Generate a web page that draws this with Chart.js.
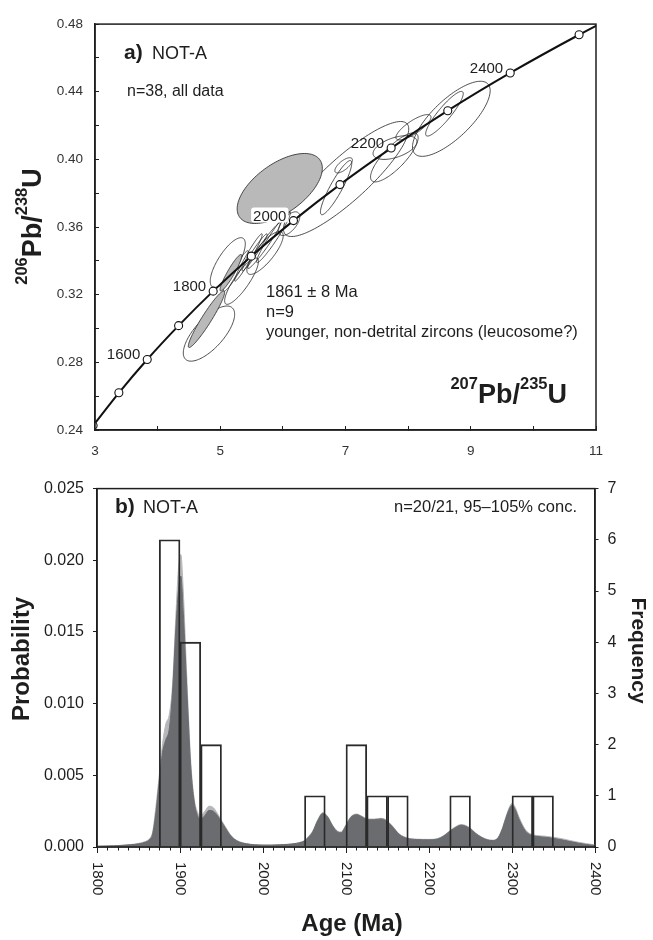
<!DOCTYPE html>
<html><head><meta charset="utf-8">
<script src="https://cdn.jsdelivr.net/npm/chart.js@4.4.1/dist/chart.umd.min.js"></script>
<style>
html,body{margin:0;padding:0;background:#fff;}
body{width:653px;height:940px;overflow:hidden;position:relative;}
.w{position:absolute;left:0;width:653px;height:470px;}
</style></head>
<body>
<div class="w" style="top:0"><canvas id="ca"></canvas></div>
<div class="w" style="top:470px"><canvas id="cb"></canvas></div>
<script>
// ---------- Panel a: concordia ----------
const concordiaAges = [1400,1500,1600,1700,1800,1900,2000,2100,2200,2300,2400,2500,2600];
const concordiaX = [2.970,3.381,3.834,4.335,4.887,5.496,6.169,6.911,7.729,8.633,9.630,10.73,11.94];
const concordiaY = [0.2426,0.2620,0.2817,0.3017,0.3221,0.3428,0.3638,0.3851,0.4067,0.4288,0.4511,0.4737,0.4968];
const ageLabels = ['1600','1800','2000','2200','2400'];

// error ellipses: centre (207/235, 206/238), half-axes, correlation, filled?
const ellipseX   = [7.01,8.69,8.58,8.085,7.78,7.79,6.85,6.97,4.82,5.12,5.34,5.715,5.45,5.55,5.70,5.85,6.10,5.25,5.95,4.78,5.17];
const ellipseY   = [0.3884,0.4240,0.4270,0.4190,0.4012,0.4070,0.3833,0.3965,0.2970,0.3390,0.3280,0.3447,0.3420,0.3450,0.3490,0.3540,0.3620,0.3340,0.3828,0.3055,0.3330];
const ellipseSX  = [1.00,0.62,0.30,0.28,0.38,0.35,0.25,0.14,0.41,0.28,0.27,0.29,0.22,0.20,0.26,0.27,0.17,0.20,0.68,0.29,0.173];
const ellipseSY  = [0.034,0.0222,0.0132,0.0075,0.0145,0.0070,0.0160,0.0045,0.0163,0.0147,0.0137,0.0127,0.0140,0.0110,0.0135,0.0150,0.0070,0.0120,0.0207,0.0167,0.0108];
const ellipseRho = [0.87,0.75,0.90,0.80,0.80,0.50,0.90,0.70,0.70,0.75,0.85,0.80,0.97,0.97,0.97,0.96,0.60,0.95,0.58,0.95,0.93];
const ellipseFilled = [0,0,0,0,0,0,0,0,0,0,0,0,0,0,0,0,0,0,1,1,1];

const topXTickLabels = ['3','5','7','9','11'];
const topYTickLabels = ['0.24','0.28','0.32','0.36','0.40','0.44','0.48'];

// ---------- Panel b: probability density + histogram ----------
const densityAges = [1800,1820,1840,1850,1858,1863,1867,1871,1875,1879,1883,1887,1891,1895,1898,1901,1904,1907,1910,1913,1917,1921,1925,1930,1935,1940,1945,1950,1955,1960,1965,1972,1980,1990,2000,2010,2020,2030,2040,2046,2050,2055,2060,2066,2072,2078,2084,2090,2094,2100,2106,2113,2120,2126,2134,2142,2148,2156,2164,2174,2185,2200,2210,2217,2223,2229,2239,2249,2256,2263,2270,2276,2282,2288,2292,2296,2300,2304,2308,2313,2318,2324,2330,2340,2350,2360,2370,2380,2390,2400];
const densityDark = [0.00005,0.00008,0.00015,0.00022,0.00033,0.00050,0.00090,0.00240,0.00460,0.00660,0.00750,0.00820,0.01080,0.01520,0.01780,0.01890,0.01630,0.01250,0.00880,0.00550,0.00320,0.00220,0.00195,0.00220,0.00255,0.00250,0.00220,0.00175,0.00130,0.00085,0.00055,0.00033,0.00022,0.00015,0.00013,0.00013,0.00015,0.00018,0.00025,0.00033,0.00042,0.00070,0.00107,0.00185,0.00234,0.00208,0.00145,0.00105,0.00100,0.00150,0.00208,0.00225,0.00208,0.00190,0.00190,0.00196,0.00185,0.00141,0.00088,0.00060,0.00052,0.00050,0.00055,0.00074,0.00100,0.00125,0.00152,0.00130,0.00095,0.00068,0.00050,0.00045,0.00055,0.00120,0.00190,0.00255,0.00292,0.00260,0.00200,0.00140,0.00100,0.00082,0.00074,0.00068,0.00060,0.00050,0.00038,0.00027,0.00017,0.00010];
const densityLight = [0.00006,0.00009,0.00017,0.00025,0.00038,0.00058,0.00105,0.00280,0.00500,0.00720,0.00860,0.00920,0.01130,0.01610,0.01930,0.02040,0.01780,0.01350,0.00940,0.00590,0.00340,0.00245,0.00220,0.00250,0.00285,0.00275,0.00235,0.00185,0.00138,0.00092,0.00060,0.00036,0.00024,0.00016,0.00014,0.00014,0.00016,0.00019,0.00026,0.00035,0.00045,0.00074,0.00112,0.00190,0.00240,0.00212,0.00150,0.00110,0.00105,0.00155,0.00212,0.00230,0.00212,0.00195,0.00195,0.00200,0.00190,0.00146,0.00092,0.00063,0.00055,0.00053,0.00058,0.00077,0.00103,0.00130,0.00157,0.00135,0.00099,0.00071,0.00053,0.00048,0.00058,0.00125,0.00198,0.00265,0.00305,0.00275,0.00215,0.00152,0.00108,0.00088,0.00080,0.00075,0.00068,0.00058,0.00045,0.00033,0.00023,0.00015];
const binStarts = [1875,1900,1925,2050,2100,2125,2150,2225,2300,2325];
const binCounts = [6,4,2,1,2,1,1,1,1,1];
const binWidth = 25;
const probTickLabels = ['0.000','0.005','0.010','0.015','0.020','0.025'];
const freqTickLabels = ['0','1','2','3','4','5','6','7'];
const ageTickLabels = ['1800','1900','2000','2100','2200','2300','2400'];
const ageMinorStep = 12.5;

const FF = '"Liberation Sans", Arial, Helvetica, sans-serif';
const INK = '#1e1e1e';

function richText(ctx, parts, x, y, mainSize, supSize, raise, align){
  let w = 0;
  parts.forEach(p=>{ ctx.font = 'bold '+(p.sup?supSize:mainSize)+'px '+FF; w += ctx.measureText(p.t).width; });
  let cx = align==='center' ? x - w/2 : (align==='right' ? x - w : x);
  ctx.textAlign='left'; ctx.textBaseline='alphabetic';
  parts.forEach(p=>{
    ctx.font = 'bold '+(p.sup?supSize:mainSize)+'px '+FF;
    ctx.fillText(p.t, cx, p.sup ? y - raise : y);
    cx += ctx.measureText(p.t).width;
  });
}

const ellipsePlugin = {
  id:'ellipses',
  beforeDatasetsDraw(chart){
    const {ctx, chartArea:a, scales:{x,y}} = chart;
    ctx.save();
    ctx.beginPath(); ctx.rect(a.left,a.top,a.width,a.height); ctx.clip();
    [0,1].forEach(pass=>{
      ellipseX.forEach((cx,i)=>{
        if (ellipseFilled[i]!==pass) return;
        const sx=ellipseSX[i], sy=ellipseSY[i], r=ellipseRho[i], q=Math.sqrt(1-r*r);
        ctx.beginPath();
        for(let k=0;k<=120;k++){
          const t=2*Math.PI*k/120;
          const px=x.getPixelForValue(cx+sx*Math.cos(t));
          const py=y.getPixelForValue(ellipseY[i]+sy*(r*Math.cos(t)+q*Math.sin(t)));
          if(k===0) ctx.moveTo(px,py); else ctx.lineTo(px,py);
        }
        ctx.closePath();
        if(pass){ ctx.fillStyle='#b9b9b9'; ctx.fill(); }
        ctx.strokeStyle='#222'; ctx.lineWidth=0.8; ctx.stroke();
      });
    });
    ctx.restore();
  },
  afterDatasetsDraw(chart){
    const {ctx, scales:{x,y}} = chart;
    ctx.save();
    ctx.font='15px '+FF; ctx.textAlign='right'; ctx.textBaseline='alphabetic';
    ageLabels.forEach(lab=>{
      const i = concordiaAges.indexOf(Number(lab));
      const px = x.getPixelForValue(concordiaX[i]) - 7;
      const py = y.getPixelForValue(concordiaY[i]);
      if(lab==='2000'){
        const w = ctx.measureText(lab).width;
        ctx.fillStyle='#fff';
        ctx.beginPath(); ctx.roundRect(px-w-2, py-13, w+4, 15, 3); ctx.fill();
      }
      ctx.fillStyle=INK; ctx.fillText(lab, px, py);
    });
    ctx.restore();
  },
  afterDraw(chart){
    const {ctx, chartArea:a} = chart;
    ctx.save();
    ctx.strokeStyle=INK; ctx.lineWidth=1.5;
    ctx.strokeRect(a.left, a.top, a.width, a.height);
    ctx.fillStyle=INK;
    ctx.textAlign='left'; ctx.textBaseline='alphabetic';
    ctx.font='bold 21px '+FF; ctx.fillText('a)', 124, 59);
    ctx.font='18px '+FF; ctx.fillText('NOT-A', 152, 59);
    ctx.font='16px '+FF; ctx.fillText('n=38, all data', 127, 96);
    ctx.font='16.5px '+FF;
    ctx.fillText('1861 \u00B1 8 Ma', 266, 297);
    ctx.fillText('n=9', 266, 317);
    ctx.fillText('younger, non-detrital zircons (leucosome?)', 266, 337);
    richText(ctx,[{t:'207',sup:true},{t:'Pb/'},{t:'235',sup:true},{t:'U'}], 567, 403, 27, 16.5, 14, 'right');
    ctx.translate(41, 226.5); ctx.rotate(-Math.PI/2);
    richText(ctx,[{t:'206',sup:true},{t:'Pb/'},{t:'238',sup:true},{t:'U'}], 0, 0, 27, 16.5, 14, 'center');
    ctx.restore();
  }
};

new Chart(document.getElementById('ca'), {
  type:'line',
  data:{datasets:[{
    data: concordiaX.map((v,i)=>({x:v, y:concordiaY[i]})),
    borderColor:'#111', borderWidth:2, fill:false, cubicInterpolationMode:'monotone',
    pointRadius:4, pointBackgroundColor:'#fff', pointBorderColor:'#111', pointBorderWidth:1.1
  }]},
  options:{
    responsive:true, maintainAspectRatio:false, animation:false,
    layout:{padding:{top:21, right:57, left:0, bottom:0}},
    plugins:{legend:{display:false}, tooltip:{enabled:false}},
    scales:{
      x:{type:'linear', min:3, max:11, z:1, offset:false,
         ticks:{stepSize:1, autoSkip:false, maxRotation:0, padding:17.5, color:'#333', font:{family:FF,size:13.5},
                callback:(v)=> topXTickLabels.includes(String(v)) ? String(v) : ''},
         grid:{drawOnChartArea:false, tickLength:-4, color:INK, lineWidth:1},
         border:{color:INK, width:1.5},
         afterFit:(s)=>{ s.height=40; }},
      y:{type:'linear', min:0.24, max:0.48, z:1,
         ticks:{stepSize:0.02, autoSkip:false, padding:16, color:'#333', font:{family:FF,size:13.5},
                callback:(v)=>{ const s=Number(v).toFixed(2); return topYTickLabels.includes(s) ? s : ''; }},
         grid:{drawOnChartArea:false, tickLength:-4, color:INK, lineWidth:1},
         border:{color:INK, width:1.5},
         afterFit:(s)=>{ s.width=95; }}
    }
  },
  plugins:[ellipsePlugin]
});

const panelBPlugin = {
  id:'panelB',
  afterDraw(chart){
    const {ctx, chartArea:a, scales:{x}} = chart;
    ctx.save();
    ctx.strokeStyle=INK; ctx.lineWidth=1.5;
    ctx.strokeRect(a.left, a.top, a.width, a.height);
    ctx.lineWidth=1;
    for(let v=x.min; v<=x.max+1e-9; v+=ageMinorStep){
      const px = Math.round(x.getPixelForValue(v))+0.5;
      ctx.beginPath(); ctx.moveTo(px, a.bottom); ctx.lineTo(px, a.bottom+3.5); ctx.stroke();
    }
    ctx.fillStyle=INK;
    ctx.font='15px '+FF; ctx.textAlign='left'; ctx.textBaseline='middle';
    ageTickLabels.forEach(lab=>{
      const px = x.getPixelForValue(Number(lab));
      ctx.beginPath(); ctx.moveTo(Math.round(px)+0.5, a.bottom); ctx.lineTo(Math.round(px)+0.5, a.bottom+6); ctx.stroke();
      ctx.save(); ctx.translate(px, a.bottom+15); ctx.rotate(Math.PI/2);
      ctx.fillText(lab, 0, 0); ctx.restore();
    });
    ctx.textBaseline='alphabetic';
    ctx.font='bold 21px '+FF; ctx.fillText('b)', 115, 43);
    ctx.font='18px '+FF; ctx.fillText('NOT-A', 143, 43);
    ctx.font='16.5px '+FF; ctx.textAlign='right';
    ctx.fillText('n=20/21, 95\u2013105% conc.', 577, 42);
    ctx.textAlign='center';
    ctx.font='bold 24px '+FF; ctx.fillText('Age (Ma)', 352, 461);
    ctx.save(); ctx.translate(29, 189); ctx.rotate(-Math.PI/2);
    ctx.font='bold 24px '+FF; ctx.fillText('Probability', 0, 0); ctx.restore();
    ctx.save(); ctx.translate(632, 180.5); ctx.rotate(Math.PI/2);
    ctx.font='bold 21px '+FF; ctx.fillText('Frequency', 0, 0); ctx.restore();
    ctx.restore();
  }
};

new Chart(document.getElementById('cb'), {
  type:'line',
  data:{datasets:[
    {type:'bar', yAxisID:'y2', order:0,
     data: binStarts.map((s,i)=>({x:s+binWidth/2, y:binCounts[i]})),
     backgroundColor:'rgba(0,0,0,0)', borderColor:'#2a2a2a', borderWidth:1.2,
     barPercentage:1, categoryPercentage:1},
    {yAxisID:'y', order:1,
     data: densityAges.map((a,i)=>({x:a, y:densityDark[i]})),
     fill:'origin', backgroundColor:'#6b6c6f', borderColor:'#6b6c6f', borderWidth:1,
     pointRadius:0, cubicInterpolationMode:'monotone'},
    {yAxisID:'y', order:2,
     data: densityAges.map((a,i)=>({x:a, y:densityLight[i]})),
     fill:'origin', backgroundColor:'#b6b7ba', borderColor:'#b6b7ba', borderWidth:1,
     pointRadius:0, cubicInterpolationMode:'monotone'}
  ]},
  options:{
    responsive:true, maintainAspectRatio:false, animation:false,
    layout:{padding:{top:13, right:0, left:0, bottom:0}},
    plugins:{legend:{display:false}, tooltip:{enabled:false}},
    scales:{
      x:{type:'linear', min:1800, max:2400, z:1, offset:false,
         ticks:{stepSize:100, autoSkip:false, maxRotation:0, callback:()=>''},
         grid:{drawOnChartArea:false, drawTicks:false, offset:false},
         border:{color:INK, width:1.5},
         afterFit:(s)=>{ s.height=93; }},
      y:{type:'linear', position:'left', min:0, max:0.025, z:1,
         ticks:{stepSize:0.005, autoSkip:false, padding:9, color:INK, font:{family:FF,size:16},
                callback:(v)=>{ const s=Number(v).toFixed(3); return probTickLabels.includes(s)?s:''; }},
         grid:{drawOnChartArea:false, tickLength:4, color:INK, lineWidth:1},
         border:{color:INK, width:1.5},
         afterFit:(s)=>{ s.width=97; }},
      y2:{type:'linear', position:'right', min:0, max:7, z:1,
         ticks:{stepSize:1, autoSkip:false, padding:9, color:INK, font:{family:FF,size:16},
                callback:(v)=>{ const s=String(v); return freqTickLabels.includes(s)?s:''; }},
         grid:{drawOnChartArea:false, tickLength:3.5, color:INK, lineWidth:1},
         border:{color:INK, width:1.5},
         afterFit:(s)=>{ s.width=58; }}
    }
  },
  plugins:[panelBPlugin]
});
</script>
</body></html>
